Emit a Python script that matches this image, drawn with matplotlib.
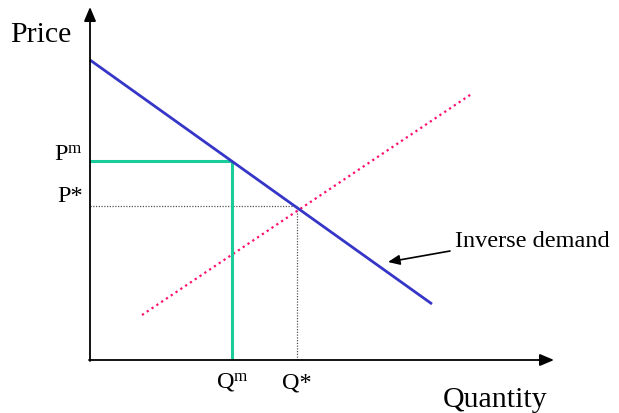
import matplotlib
matplotlib.use('Agg')
import matplotlib.pyplot as plt

plt.rcParams['font.family'] = ['Liberation Serif', 'DejaVu Serif']
plt.rcParams['mathtext.fontset'] = 'custom'
plt.rcParams['mathtext.rm'] = 'Liberation Serif'
plt.rcParams['mathtext.it'] = 'Liberation Serif:italic'

# curves (quantity, price) in chart units
demand_q = [0.0, 34.2]
demand_p = [30.0, 5.6]
supply_q = [5.2, 38.3]
supply_p = [4.5, 26.7]

# monopoly and competitive outcomes
q_m, p_m = 14.2, 19.9
q_star, p_star = 20.7, 15.4

fig = plt.figure(figsize=(6.19, 4.14), dpi=100)
ax = fig.add_axes([0, 0, 1, 1])
ax.set_xlim(-9.0, 52.9)
ax.set_ylim(-5.3, 36.1)
ax.axis('off')

# axes with arrow heads
head = '-|>,head_length=0.85,head_width=0.36'
ax.annotate('', xy=(46.4, 0), xytext=(-0.1, 0),
            arrowprops=dict(arrowstyle=head, color='black', lw=1.3, shrinkA=0, shrinkB=0))
ax.annotate('', xy=(0, 35.3), xytext=(0, -0.1),
            arrowprops=dict(arrowstyle=head, color='black', lw=1.3, shrinkA=0, shrinkB=0))

# competitive guide lines
ax.plot([0, q_star], [p_star, p_star], color='#555555', lw=0.9, ls=(0, (1, 1.2)))
ax.plot([q_star, q_star], [0, p_star], color='#555555', lw=0.9, ls=(0, (1, 1.2)))

# supply (dotted)
ax.plot(supply_q, supply_p, color='#ff0f6e', lw=1.6, ls=(0, (1, 1.6)))

# monopoly lines
ax.plot([0, q_m], [p_m, p_m], color='#19cc99', lw=2.2, solid_capstyle='butt')
ax.plot([q_m, q_m], [0, p_m], color='#19cc99', lw=2.2, solid_capstyle='butt')

# demand
ax.plot(demand_q, demand_p, color='#3535c8', lw=2, solid_capstyle='butt')

# labels
ax.text(-8.0, 32.6, 'Price', fontsize=21.5, ha='left', va='center')
ax.text(40.5, -3.9, 'Quantity', fontsize=21.5, ha='center', va='center')
ax.text(-0.7, 20.6, r'P$^{\mathrm{m}}$', fontsize=17.5, ha='right', va='center')
ax.text(-0.7, 16.4, 'P*', fontsize=17.5, ha='right', va='center')
ax.text(q_m, -2.2, r'Q$^{\mathrm{m}}$', fontsize=17.5, ha='center', va='center')
ax.text(q_star, -2.2, 'Q*', fontsize=17.5, ha='center', va='center')
ax.text(36.5, 11.9, 'Inverse demand', fontsize=17.5, ha='left', va='center')
ax.annotate('', xy=(29.8, 9.8), xytext=(36.0, 10.9),
            arrowprops=dict(arrowstyle='-|>,head_length=0.7,head_width=0.3', color='black', lw=1.2, shrinkA=0, shrinkB=0))

fig.savefig('out.png', dpi=100)
